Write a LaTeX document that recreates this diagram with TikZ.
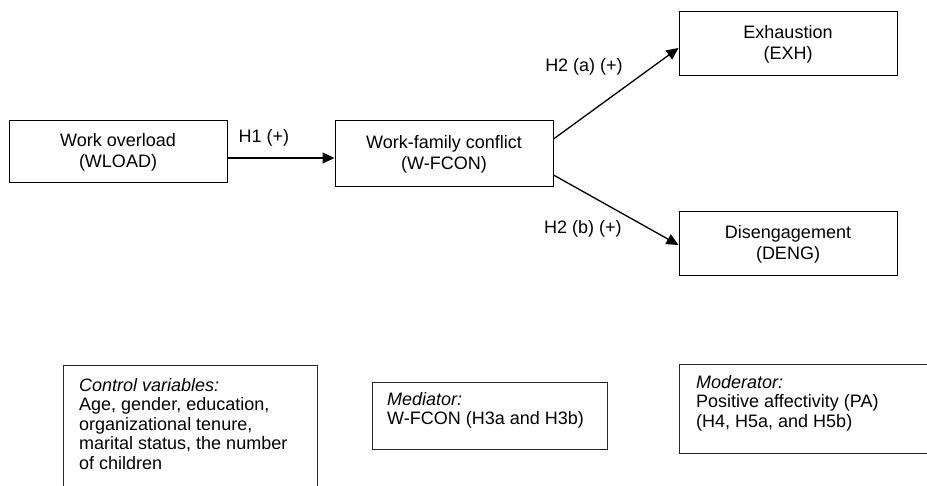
\documentclass[tikz,border=0pt]{standalone}
\usepackage{fontspec}
\setmainfont{Liberation Sans}
\usetikzlibrary{arrows.meta,calc}
\begin{document}
\begin{tikzpicture}[x=1pt,y=-1pt,
  box/.style={draw, line width=1pt, fill=white, inner sep=0pt, align=center,
    font=\fontsize{18}{21}\selectfont},
  bbox/.style={draw=black!85, line width=1pt, inner sep=0pt, anchor=north west},
  btext/.style={anchor=north west, align=left, inner sep=0pt,
    font=\fontsize{18}{19.5}\selectfont},
  arr/.style={-{Triangle[length=12pt,width=11pt]}, line width=1.3pt},
  lbl/.style={inner sep=0pt, font=\fontsize{18}{21}\selectfont}]
\useasboundingbox (0,0) rectangle (927,486);
\clip (0,0) rectangle (927,486);
% main boxes
\node[box, minimum width=218pt, minimum height=62pt] (wload) at (118,152) {Work overload\\(WLOAD)};
\node[box, minimum width=218pt, minimum height=66pt] (wfcon) at (444,154) {Work-family conflict\\(W-FCON)};
\node[box, minimum width=218pt, minimum height=64pt] (exh) at (788,44) {Exhaustion\\(EXH)};
\node[box, minimum width=218pt, minimum height=64pt] (deng) at (788,244) {Disengagement\\(DENG)};
% connectors
\coordinate (h) at (0,158);
\draw[arr] (wload.east |- h) -- (wfcon.west |- h);
\draw[arr] ($(wfcon.east)+(0,-15)$) -- ($(exh.west)+(0,4)$);
\draw[arr] ($(wfcon.east)+(0,21)$) -- ($(deng.west)+(0,1)$);
% labels
\node[lbl] (l1) at (264,138) {H1 (+)};
\node[lbl] (l2a) at (584,67) {H2 (a) (+)};
\node[lbl] (l2b) at (583,229) {H2 (b) (+)};
% bottom boxes
\node[bbox, minimum width=254pt, minimum height=150pt] (ctrl) at (63,365) {};
\node[btext] (ctrltxt) at (79,378) {\textit{Control variables:}\\Age, gender, education,\\organizational tenure,\\marital status, the number\\of children};
\node[bbox, minimum width=235pt, minimum height=67pt] (med) at (372,382) {};
\node[btext] (medtxt) at (387,392) {\textit{Mediator:}\\W-FCON (H3a and H3b)};
\node[bbox, minimum width=261pt, minimum height=89pt] (mod) at (679,364) {};
\node[btext] (modtxt) at (696,375) {\textit{Moderator:}\\Positive affectivity (PA)\\(H4, H5a, and H5b)};
\end{tikzpicture}
\end{document}
